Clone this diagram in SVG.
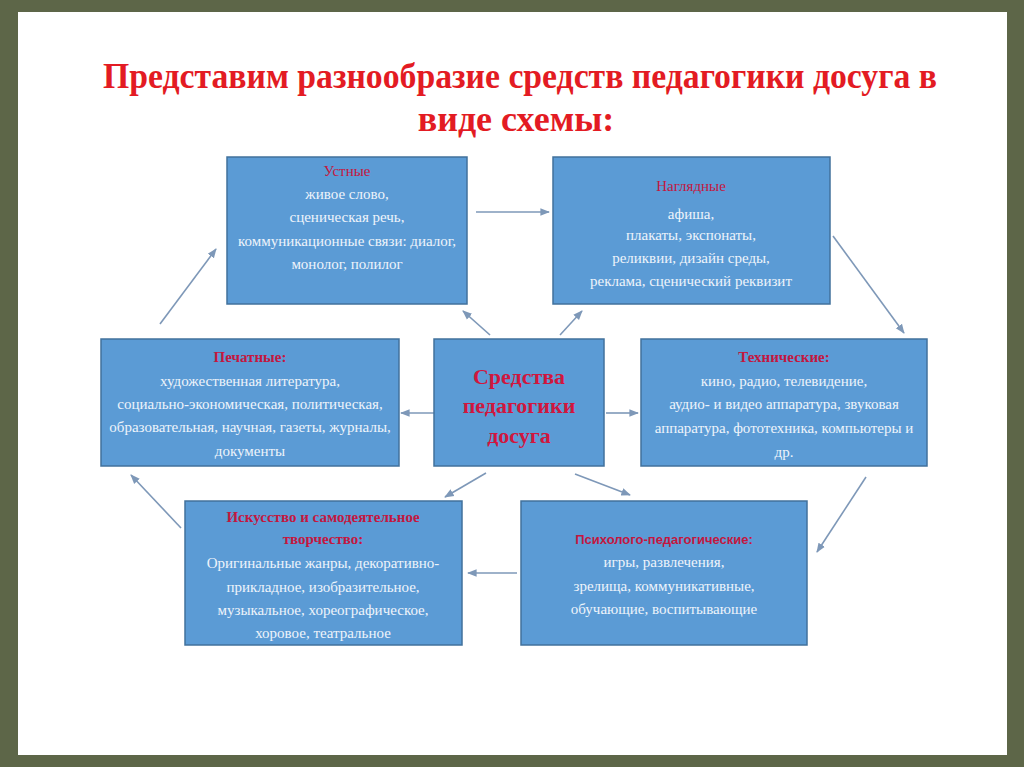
<svg xmlns="http://www.w3.org/2000/svg" width="1024" height="767" viewBox="0 0 1024 767">
<defs>
<style>
.box{fill:#5b9bd5;stroke:#41719c;stroke-width:1.5}
.t{font-family:"Liberation Serif","Times New Roman",serif;font-size:15px;fill:#eef4fb;text-anchor:middle}
.h{font-family:"Liberation Serif","Times New Roman",serif;font-size:15px;fill:#c3173f;text-anchor:middle}
.hb{font-weight:bold}
.c{font-family:"Liberation Serif","Times New Roman",serif;font-size:22px;font-weight:bold;fill:#d0163e;text-anchor:middle}
.title{font-family:"Liberation Serif","Times New Roman",serif;font-size:36px;font-weight:bold;fill:#e31b23;text-anchor:middle}
.a{stroke:#7e98b8;stroke-width:1.6;fill:none;marker-end:url(#ah)}
</style>
<marker id="ah" viewBox="0 0 10 10" refX="9" refY="5" markerWidth="6" markerHeight="6" orient="auto">
<path d="M0,1 L10,5 L0,9 z" fill="#7e98b8"/>
</marker>
</defs>
<rect x="0" y="0" width="1024" height="767" fill="#5d6648"/>
<rect x="18" y="12" width="989" height="743" fill="#ffffff"/>
<text class="title" x="520" y="88" textLength="834" lengthAdjust="spacingAndGlyphs">Представим разнообразие средств педагогики досуга в</text>
<text class="title" x="516" y="131">виде схемы:</text>

<g id="connectors">
<line class="a" x1="476" y1="212" x2="549" y2="212"/>
<line class="a" x1="833" y1="236" x2="904" y2="333"/>
<line class="a" x1="866" y1="477" x2="817" y2="552"/>
<line class="a" x1="517" y1="573" x2="468" y2="573"/>
<line class="a" x1="181" y1="528" x2="131" y2="475"/>
<line class="a" x1="160" y1="324" x2="216" y2="249"/>
<line class="a" x1="490" y1="335" x2="463" y2="311"/>
<line class="a" x1="560" y1="335" x2="582" y2="311"/>
<line class="a" x1="434" y1="413" x2="401" y2="413"/>
<line class="a" x1="606" y1="413" x2="638" y2="413"/>
<line class="a" x1="486" y1="473" x2="445" y2="497"/>
<line class="a" x1="575" y1="474" x2="630" y2="495"/>
</g>

<g id="ustnye">
<rect class="box" x="227" y="157" width="240" height="147"/>
<text class="h" x="347" y="176">Устные</text>
<text class="t" x="347" y="199">живое слово,</text>
<text class="t" x="347" y="222">сценическая речь,</text>
<text class="t" x="347" y="246">коммуникационные связи: диалог,</text>
<text class="t" x="347" y="269">монолог, полилог</text>
</g>

<g id="nagl">
<rect class="box" x="553" y="157" width="277" height="147"/>
<text class="h" x="691" y="191">Наглядные</text>
<text class="t" x="691" y="219">афиша,</text>
<text class="t" x="691" y="240">плакаты, экспонаты,</text>
<text class="t" x="691" y="263">реликвии, дизайн среды,</text>
<text class="t" x="691" y="286">реклама, сценический реквизит</text>
</g>

<g id="pechat">
<rect class="box" x="101" y="339" width="298" height="127"/>
<text class="h hb" x="250" y="362">Печатные:</text>
<text class="t" x="250" y="386">художественная литература,</text>
<text class="t" x="250" y="409">социально-экономическая, политическая,</text>
<text class="t" x="250" y="432">образовательная, научная, газеты, журналы,</text>
<text class="t" x="250" y="456">документы</text>
</g>

<g id="center">
<rect class="box" x="434" y="339" width="170" height="127"/>
<text class="c" x="519" y="384">Средства</text>
<text class="c" x="519" y="413">педагогики</text>
<text class="c" x="519" y="443">досуга</text>
</g>

<g id="tech">
<rect class="box" x="641" y="339" width="286" height="127"/>
<text class="h hb" x="784" y="362">Технические:</text>
<text class="t" x="784" y="386">кино, радио, телевидение,</text>
<text class="t" x="784" y="409">аудио- и видео аппаратура, звуковая</text>
<text class="t" x="784" y="433">аппаратура, фототехника, компьютеры и</text>
<text class="t" x="784" y="457">др.</text>
</g>

<g id="iskusstvo">
<rect class="box" x="185" y="501" width="277" height="144"/>
<text class="h hb" x="323" y="522">Искусство и самодеятельное</text>
<text class="h hb" x="323" y="544">творчество:</text>
<text class="t" x="323" y="568">Оригинальные жанры, декоративно-</text>
<text class="t" x="323" y="592">прикладное, изобразительное,</text>
<text class="t" x="323" y="615">музыкальное, хореографическое,</text>
<text class="t" x="323" y="638">хоровое, театральное</text>
</g>

<g id="psych">
<rect class="box" x="521" y="501" width="286" height="144"/>
<text x="664" y="544" style="font-family:'Liberation Sans',Arial,sans-serif;font-size:13px;font-weight:bold;fill:#c3173f;text-anchor:middle">Психолого-педагогические:</text>
<text class="t" x="664" y="567">игры, развлечения,</text>
<text class="t" x="664" y="591">зрелища, коммуникативные,</text>
<text class="t" x="664" y="614">обучающие, воспитывающие</text>
</g>
</svg>
